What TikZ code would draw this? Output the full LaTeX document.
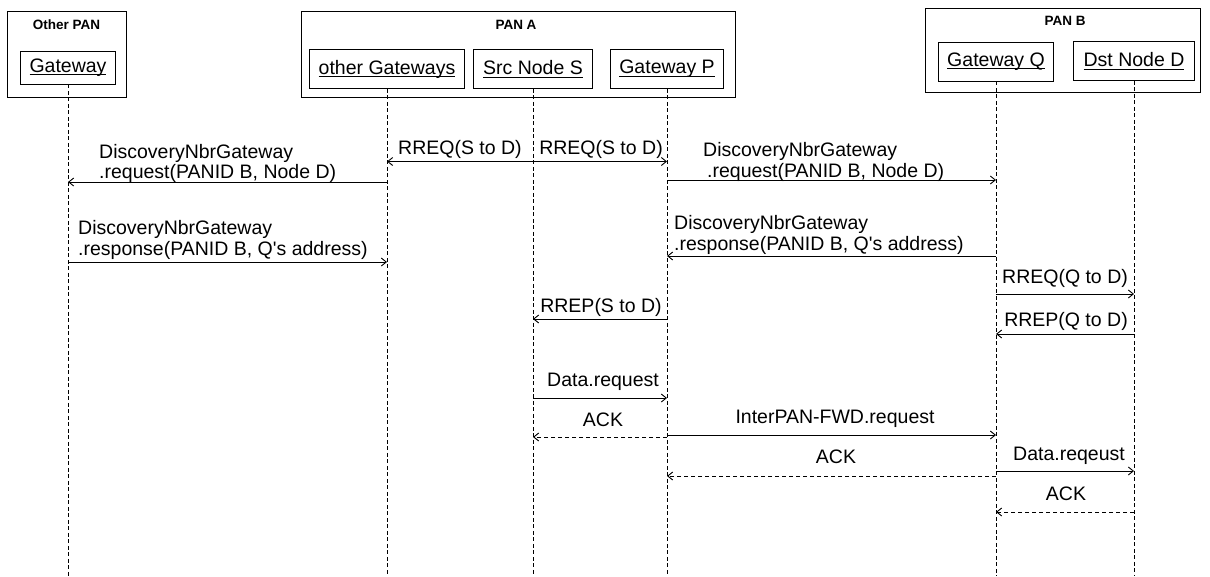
\documentclass[tikz,border=0pt]{standalone}
\usepackage{fontspec}
\setmainfont{Liberation Sans}
\usetikzlibrary{arrows.meta}
% underline drawn through the descenders, as in the participant boxes
\newcommand\ulabel[1]{\setbox0\hbox{#1}\rlap{\rule[-2.6pt]{\wd0}{0.8pt}}\box0}
\begin{document}
\begin{tikzpicture}[x=1pt,y=-1pt,
  every node/.style={font=\fontsize{19.5}{21}\selectfont, inner sep=0pt},
  grpbox/.style={draw, line width=0.8pt},
  grplabel/.style={font=\bfseries\fontsize{13.5}{15}\selectfont},
  objbox/.style={draw, line width=0.8pt, minimum height=39pt},
  lifeline/.style={line width=0.6pt, dash pattern=on 4pt off 2.5pt},
  msg/.style={line width=0.9pt, -{Straight Barb[length=5pt,width=8pt]}},
  ackmsg/.style={msg, dash pattern=on 4pt off 3pt},
  lbl/.style={anchor=base},
  lbll/.style={anchor=base west}]
\useasboundingbox (0,0) rectangle (1210,576);

% ---- PAN groups ----
\node[grpbox, minimum width=119pt, minimum height=86pt] (otherpan) at (66.5,54) {};
\node[grplabel] (otherpanlbl) at (66.5,25) {Other PAN};
\node[grpbox, minimum width=434pt, minimum height=86pt] (pana) at (518,54) {};
\node[grplabel] (panalbl) at (516,25) {PAN A};
\node[grpbox, minimum width=275pt, minimum height=84pt] (panb) at (1062.5,50) {};
\node[grplabel] (panblbl) at (1065,21) {PAN B};

% ---- participants ----
\node[objbox, minimum width=95pt, minimum height=33pt] (gw) at (68,67.5) {\ulabel{Gateway}};
\node[objbox, minimum width=155pt] (og)  at (387,69)   {\ulabel{other Gateways}};
\node[objbox, minimum width=119pt] (src) at (533,69)   {\ulabel{Src Node S}};
\node[objbox, minimum width=113pt] (gwp) at (667,69)   {\ulabel{Gateway P}};
\node[objbox, minimum width=115pt] (gwq) at (996,61.5) {\ulabel{Gateway Q}};
\node[objbox, minimum width=121pt] (dst) at (1134,61)  {\ulabel{Dst Node D}};

% ---- lifelines ----
\coordinate (bottom) at (0,576);
\foreach \n in {gw,og,src,gwp,gwq,dst}
  \draw[lifeline] (\n.south) -- (\n.south |- bottom);

% ---- message rows ----
\coordinate (rreqS) at (0,161.5);
\coordinate (reqL)  at (0,182);
\coordinate (reqR)  at (0,180);
\coordinate (rspR)  at (0,256);
\coordinate (rspL)  at (0,262);
\coordinate (rreqQ) at (0,294);
\coordinate (rrepS) at (0,319);
\coordinate (rrepQ) at (0,334);
\coordinate (dreqA) at (0,398);
\coordinate (fwd)   at (0,435);
\coordinate (ackA)  at (0,437);
\coordinate (dreqB) at (0,471);
\coordinate (ackP)  at (0,476);
\coordinate (ackQ)  at (0,512);

% RREQ broadcast from the source
\draw[msg] (src |- rreqS) -- (og |- rreqS);
\draw[msg] (src |- rreqS) -- (gwp |- rreqS);
\node[lbl] (rreqSl) at (460,154) {RREQ(S to D)};
\node[lbl] (rreqSr) at (601,154) {RREQ(S to D)};

% neighbour gateway discovery, other PAN side
\draw[msg] (og |- reqL) -- (gw |- reqL);
\node[lbll] (reqL1) at (99,158) {DiscoveryNbrGateway};
\node[lbll] (reqL2) at (99,178) {.request(PANID B, Node D)};
\draw[msg] (gw |- rspL) -- (og |- rspL);
\node[lbll] (rspL1) at (78,234) {DiscoveryNbrGateway};
\node[lbll] (rspL2) at (78,255) {.response(PANID B, Q\textquotesingle s address)};

% neighbour gateway discovery, PAN B side
\draw[msg] (gwp |- reqR) -- (gwq |- reqR);
\node[lbll] (reqR1) at (703,156) {DiscoveryNbrGateway};
\node[lbll] (reqR2) at (707,177) {.request(PANID B, Node D)};
\draw[msg] (gwq |- rspR) -- (gwp |- rspR);
\node[lbll] (rspR1) at (674,229) {DiscoveryNbrGateway};
\node[lbll] (rspR2) at (674,250) {.response(PANID B, Q\textquotesingle s address)};

% route discovery inside PAN B and reply to S
\draw[msg] (gwq |- rreqQ) -- (dst |- rreqQ);
\node[lbl] (rreqQl) at (1065,283) {RREQ(Q to D)};
\draw[msg] (gwp |- rrepS) -- (src |- rrepS);
\node[lbl] (rrepSl) at (601,312) {RREP(S to D)};
\draw[msg] (dst |- rrepQ) -- (gwq |- rrepQ);
\node[lbl] (rrepQl) at (1066,326) {RREP(Q to D)};

% data forwarding
\draw[msg] (src |- dreqA) -- (gwp |- dreqA);
\node[lbl] (dreqAl) at (603,386) {Data.request};
\draw[ackmsg] (gwp |- ackA) -- (src |- ackA);
\node[lbl] (ackAl) at (603,426) {ACK};
\draw[msg] (gwp |- fwd) -- (gwq |- fwd);
\node[lbl] (fwdl) at (835,423) {InterPAN-FWD.request};
\draw[ackmsg] (gwq |- ackP) -- (gwp |- ackP);
\node[lbl] (ackPl) at (836,463) {ACK};
\draw[msg] (gwq |- dreqB) -- (dst |- dreqB);
\node[lbl] (dreqBl) at (1069,460) {Data.reqeust};
\draw[ackmsg] (dst |- ackQ) -- (gwq |- ackQ);
\node[lbl] (ackQl) at (1066,500) {ACK};
\end{tikzpicture}
\end{document}
